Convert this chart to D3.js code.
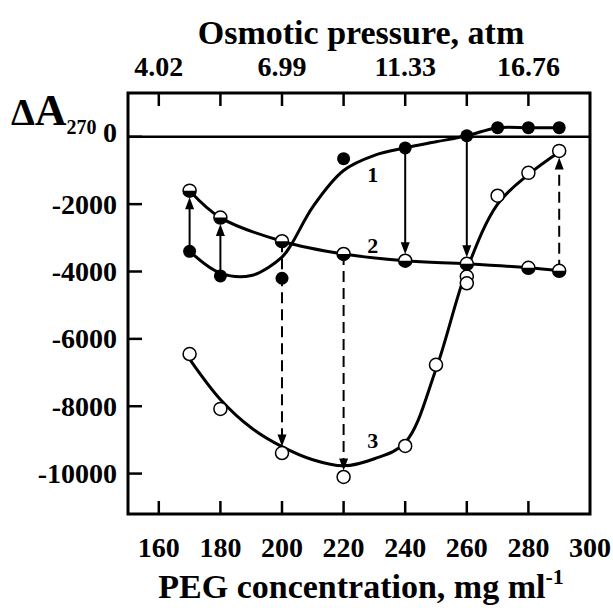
<!DOCTYPE html>
<html>
<head>
<meta charset="utf-8">
<script src="https://cdn.jsdelivr.net/npm/d3@7/dist/d3.min.js"></script>
<style>
  html, body { margin: 0; padding: 0; background: #fff; }
  text { font-family: "Liberation Serif", "Times New Roman", serif; font-weight: bold; fill: #000; }
</style>
</head>
<body>
<svg id="chart" width="613" height="608"></svg>
<script>
// ---- data ----
const peg1 = [170, 180, 200, 220, 240, 260, 270, 280, 290];
const series1 = [-3400, -4130, -4200, -650, -330, 30, 270, 270, 270];        // filled circles
const peg2 = [170, 180, 200, 220, 240, 260, 280, 290];
const series2 = [-1600, -2400, -3100, -3480, -3680, -3770, -3890, -3980];   // half-filled circles
const peg3 = [170, 180, 200, 220, 240, 250, 260, 260, 270, 280, 290];
const series3 = [-6450, -8080, -9390, -10100, -9180, -6770, -4150, -4350, -1750, -1070, -420]; // open circles

// fitted curves as drawn in the figure
const fitPeg1 = [170, 180, 190, 200, 203, 210, 220, 230, 240, 250, 260, 270, 280, 290];
const fitCurve1 = [-3400, -4050, -4120, -3570, -3200, -2080, -1000, -550, -330, -150, 30, 270, 270, 270];
const fitPeg2 = peg2;
const fitCurve2 = series2;
const fitPeg3 = [170, 180, 190, 200, 210, 220, 230, 240, 250, 260, 270, 280, 290];
const fitCurve3 = [-6600, -7800, -8640, -9200, -9590, -9770, -9560, -9080, -6900, -3950, -2000, -1120, -450];

// arrows: solid from curve 1 to curve 2, dashed from curve 2 to curve 3
const solidArrowPeg = [170, 180, 240, 260];
const dashedArrowPeg = [200, 220, 290];

const xTicks = [160, 180, 200, 220, 240, 260, 280, 300];
const topTickPeg = [160, 180, 200, 220, 240, 260, 280];
const topLabelPeg = [160, 200, 240, 280];
const topLabels = ["4.02", "6.99", "11.33", "16.76"];
const yTicks = [0, -2000, -4000, -6000, -8000, -10000];

const curveLabels = ["1", "2", "3"];

// ---- drawing ----
const svg = d3.select("#chart");
const L = 128, R = 590, T = 93, B = 514;
const x = d3.scaleLinear().domain([150, 300]).range([L, R]);
const y = d3.scaleLinear().domain([-11200, 1300]).range([B, T]);

const rad = 6.5;

// fitted curves
const lineCR = d3.line().x(d => x(d[0])).y(d => y(d[1])).curve(d3.curveCatmullRom.alpha(0.5));
[[fitPeg1, fitCurve1], [fitPeg2, fitCurve2], [fitPeg3, fitCurve3]].forEach(([xs, ys]) => {
  svg.append("path")
    .attr("d", lineCR(xs.map((v, i) => [v, ys[i]])))
    .attr("fill", "none").attr("stroke", "#000").attr("stroke-width", 3);
});

// zero line
svg.append("line").attr("x1", L).attr("x2", R).attr("y1", y(0)).attr("y2", y(0))
  .attr("stroke", "#000").attr("stroke-width", 2.5);

// arrows
function valAt(xs, ys, p) { return ys[xs.indexOf(p)]; }
function arrow(p, v0, v1, dashed) {
  const px = x(p), y0 = y(v0), y1 = y(v1);
  const dir = y1 > y0 ? 1 : -1;
  const tip = y1 - dir * rad;
  const headLen = 12, headW = 4.5;
  svg.append("line").attr("x1", px).attr("x2", px).attr("y1", y0).attr("y2", tip - dir * headLen + dir * 1)
    .attr("stroke", "#000").attr("stroke-width", 2)
    .attr("stroke-dasharray", dashed ? "11,6" : null);
  svg.append("path")
    .attr("d", `M${px},${tip} L${px - headW},${tip - dir * headLen} L${px + headW},${tip - dir * headLen} Z`)
    .attr("fill", "#000");
}
solidArrowPeg.forEach(p => arrow(p, valAt(peg1, series1, p), valAt(peg2, series2, p), false));
dashedArrowPeg.forEach(p => arrow(p, valAt(peg2, series2, p), valAt(peg3, series3, p), true));

// points
peg3.forEach((p, i) => {
  svg.append("circle").attr("cx", x(p)).attr("cy", y(series3[i])).attr("r", rad)
    .attr("fill", "#fff").attr("stroke", "#000").attr("stroke-width", 1.5);
});
const halfArc = d3.arc().innerRadius(0).outerRadius(rad).startAngle(Math.PI / 2).endAngle(Math.PI * 1.5);
peg2.forEach((p, i) => {
  const g = svg.append("g").attr("transform", `translate(${x(p)},${y(series2[i])})`);
  g.append("circle").attr("r", rad).attr("fill", "#fff").attr("stroke", "#000").attr("stroke-width", 1.5);
  g.append("path").attr("d", halfArc()).attr("fill", "#000");
});
peg1.forEach((p, i) => {
  svg.append("circle").attr("cx", x(p)).attr("cy", y(series1[i])).attr("r", rad).attr("fill", "#000");
});

// curve labels
const labelPos = [[229.5, -1350], [229.5, -3450], [229.5, -9250]];
curveLabels.forEach((t, i) => {
  svg.append("text").attr("x", x(labelPos[i][0])).attr("y", y(labelPos[i][1]))
    .attr("text-anchor", "middle").style("font-size", "22px").text(t);
});

// frame
svg.append("rect").attr("x", L).attr("y", T).attr("width", R - L).attr("height", B - T)
  .attr("fill", "none").attr("stroke", "#000").attr("stroke-width", 3);

// bottom ticks (inward)
xTicks.filter(t => t < 300).forEach(t => {
  svg.append("line").attr("x1", x(t)).attr("x2", x(t)).attr("y1", B).attr("y2", B - 13)
    .attr("stroke", "#000").attr("stroke-width", 2.5);
});
xTicks.forEach(t => {
  svg.append("text").attr("x", x(t)).attr("y", 557).attr("text-anchor", "middle")
    .style("font-size", "28px").text(t);
});
// top ticks
topTickPeg.forEach(t => {
  svg.append("line").attr("x1", x(t)).attr("x2", x(t)).attr("y1", T).attr("y2", T + 13)
    .attr("stroke", "#000").attr("stroke-width", 2.5);
});
topLabelPeg.forEach((t, i) => {
  svg.append("text").attr("x", x(t)).attr("y", 76).attr("text-anchor", "middle")
    .style("font-size", "28px").text(topLabels[i]);
});
// left ticks
yTicks.forEach(t => {
  svg.append("line").attr("x1", L).attr("x2", L + 14).attr("y1", y(t)).attr("y2", y(t))
    .attr("stroke", "#000").attr("stroke-width", 2.5);
  svg.append("text").attr("x", 117).attr("y", y(t)).attr("dy", t === 0 ? "0.2em" : "0.34em")
    .attr("text-anchor", "end").style("font-size", "28px").text(t);
});

// axis titles
svg.append("text").attr("x", 361).attr("y", 44).attr("text-anchor", "middle")
  .style("font-size", "34px").text("Osmotic pressure, atm");
const bt = svg.append("text").attr("x", 361).attr("y", 598).attr("text-anchor", "middle")
  .style("font-size", "34px");
bt.append("tspan").text("PEG concentration, mg ml");
bt.append("tspan").attr("dy", -14).style("font-size", "22px").text("-1");

// y label
const yl = svg.append("text").attr("x", 11).attr("y", 125);
yl.append("tspan").style("font-size", "38px").text("Δ");
yl.append("tspan").style("font-size", "44px").text("A");
yl.append("tspan").attr("dy", 9).style("font-size", "20px").text("270");
</script>
</body>
</html>
